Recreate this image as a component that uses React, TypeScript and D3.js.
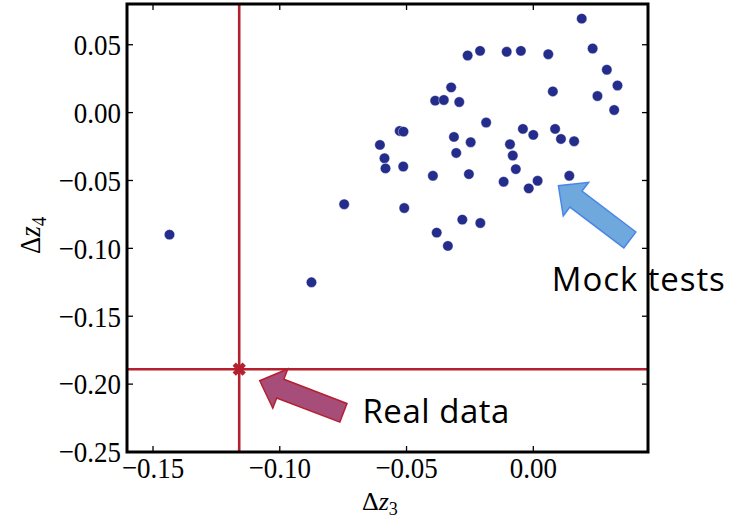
import React from 'react';
import * as d3 from 'd3';

// Mock tests (Δz3, Δz4)
const mockX = [
  -0.1435, -0.0746, -0.0875, 0.0191, 0.0234, -0.0259, -0.0210, -0.0105, -0.0049, 0.0059,
  0.0290, 0.0332, 0.0253, 0.0319, 0.0077, -0.0324, -0.0387, -0.0353, -0.0292, -0.0186,
  -0.0527, -0.0512, -0.0041, 0.0000, 0.0086, 0.0109, 0.0161, -0.0313, -0.0247, -0.0605,
  -0.0587, -0.0583, -0.0513, -0.0304, -0.0092, -0.0081, -0.0069, -0.0117, 0.0017, -0.0018,
  0.0142, -0.0396, -0.0254, -0.0509, -0.0280, -0.0209, -0.0381, -0.0337,
];
const mockY = [
  -0.0899, -0.0675, -0.1250, 0.0692, 0.0472, 0.0421, 0.0455, 0.0448, 0.0455, 0.0430,
  0.0316, 0.0200, 0.0122, 0.0019, 0.0156, 0.0186, 0.0088, 0.0093, 0.0078, -0.0073,
  -0.0135, -0.0140, -0.0120, -0.0164, -0.0120, -0.0194, -0.0211, -0.0179, -0.0218, -0.0238,
  -0.0336, -0.0411, -0.0397, -0.0297, -0.0233, -0.0316, -0.0416, -0.0509, -0.0502, -0.0558,
  -0.0465, -0.0465, -0.0453, -0.0703, -0.0788, -0.0813, -0.0884, -0.0982,
];

// Real data
const realX = [-0.116];
const realY = [-0.189];

const xTicks = [-0.15, -0.1, -0.05, 0.0];
const yTicks = [0.05, 0.0, -0.05, -0.1, -0.15, -0.2, -0.25];

// Annotations (data coordinates)
const annLabels = ['Mock tests', 'Real data'];
const annTextX = [0.0073, -0.0674];
const annTextY = [-0.1317, -0.2283];
const annTextLen = [173, 147];
const arrowTipX = [0.0099, -0.1079];
const arrowTipY = [-0.0539, -0.1975];
const arrowTailX = [0.0381, -0.0749];
const arrowTailY = [-0.0938, -0.2211];
const arrowFill = ['#6fa8dc', '#a64d79'];
const arrowStroke = ['#4a86e8', '#b5202e'];

const W = 741;
const H = 519;
const M = { left: 127, top: 4, right: 648, bottom: 452 };

const x = d3.scaleLinear().domain([-0.16026, 0.04524]).range([M.left, M.right]);
const y = d3.scaleLinear().domain([-0.25, 0.08]).range([M.bottom, M.top]);
const fmt = d3.format('.2f');

function arrowPath(tx: number, ty: number, bx: number, by: number) {
  const dx = tx - bx, dy = ty - by;
  const len = Math.hypot(dx, dy);
  const ux = dx / len, uy = dy / len;
  const nx = -uy, ny = ux;
  const sw = 10, hw = 21, hl = 22;
  const baseX = tx - ux * hl, baseY = ty - uy * hl;
  const pts: [number, number][] = [
    [bx + nx * sw, by + ny * sw],
    [baseX + nx * sw, baseY + ny * sw],
    [baseX + nx * hw, baseY + ny * hw],
    [tx, ty],
    [baseX - nx * hw, baseY - ny * hw],
    [baseX - nx * sw, baseY - ny * sw],
    [bx - nx * sw, by - ny * sw],
  ];
  return d3.line()(pts) + 'Z';
}

export default function App() {
  const red = '#b5202e';
  const navy = '#252d8c';
  const serif = '"Liberation Serif", "DejaVu Serif", serif';
  const sans = '"Open Sans", Lato, sans-serif';
  const tickLen = 6;
  const sy = 1.12;
  const crossPath = d3.symbol(d3.symbolCross, 110)() || '';
  return (
    <svg width={W} height={H} style={{ position: 'absolute', left: 0, top: 0, background: '#fff' }}>
      <rect x={0} y={0} width={W} height={H} fill="#fff" />
      <defs>
        <clipPath id="plotclip">
          <rect x={M.left} y={M.top} width={M.right - M.left} height={M.bottom - M.top} />
        </clipPath>
      </defs>

      {/* red reference lines */}
      <g clipPath="url(#plotclip)">
        <line x1={x(realX[0])} x2={x(realX[0])} y1={M.top} y2={M.bottom} stroke={red} strokeWidth={2.6} />
        <line x1={M.left} x2={M.right} y1={y(realY[0])} y2={y(realY[0])} stroke={red} strokeWidth={2.6} />
      </g>

      {/* mock points */}
      {mockX.map((v, i) => (
        <circle key={i} cx={x(v)} cy={y(mockY[i])} r={5.2} fill={navy} stroke="#fff" strokeWidth={0.4} />
      ))}

      {/* real marker */}
      {realX.map((v, i) => (
        <path key={i} d={crossPath} transform={`translate(${x(v)},${y(realY[i])}) rotate(45)`} fill={red} />
      ))}

      {/* ticks */}
      {xTicks.map((t) => (
        <g key={'xt' + t}>
          <line x1={x(t)} x2={x(t)} y1={M.bottom} y2={M.bottom - tickLen} stroke="#000" strokeWidth={1.3} />
          <line x1={x(t)} x2={x(t)} y1={M.top} y2={M.top + tickLen} stroke="#000" strokeWidth={1.3} />
          <text transform={`translate(${x(t)},478) scale(1,${sy})`} textAnchor="middle" fontFamily={serif} fontSize={27} fill="#000">
            {fmt(t)}
          </text>
        </g>
      ))}
      {yTicks.map((t) => (
        <g key={'yt' + t}>
          <line x1={M.left} x2={M.left + tickLen} y1={y(t)} y2={y(t)} stroke="#000" strokeWidth={1.3} />
          <line x1={M.right} x2={M.right - tickLen} y1={y(t)} y2={y(t)} stroke="#000" strokeWidth={1.3} />
          <text transform={`translate(121,${y(t)}) scale(1,${sy})`} dy="0.34em" textAnchor="end" fontFamily={serif} fontSize={27} fill="#000">
            {fmt(t)}
          </text>
        </g>
      ))}

      {/* frame */}
      <rect x={M.left} y={M.top} width={M.right - M.left} height={M.bottom - M.top} fill="none" stroke="#000" strokeWidth={3} />

      {/* axis labels */}
      <text x={362} y={510} fontFamily={serif} fontSize={26} fill="#000">
        Δ<tspan fontStyle="italic">z</tspan>
        <tspan fontSize={18} dy={5}>3</tspan>
      </text>
      <text transform={`translate(40,254) scale(${sy},1) rotate(-90)`} fontFamily={serif} fontSize={27} fill="#000">
        Δ<tspan fontStyle="italic">z</tspan>
        <tspan fontSize={19} dy={5}>4</tspan>
      </text>

      {/* annotations */}
      {annLabels.map((lab, i) => (
        <g key={lab}>
          <path
            d={arrowPath(x(arrowTipX[i]), y(arrowTipY[i]), x(arrowTailX[i]), y(arrowTailY[i]))}
            fill={arrowFill[i]}
            stroke={arrowStroke[i]}
            strokeWidth={1.5}
            strokeLinejoin="miter"
          />
          <text
            x={x(annTextX[i])}
            y={y(annTextY[i])}
            fontFamily={sans}
            fontSize={33}
            textLength={annTextLen[i]}
            lengthAdjust="spacing"
            fill="#000"
          >
            {lab}
          </text>
        </g>
      ))}
    </svg>
  );
}
